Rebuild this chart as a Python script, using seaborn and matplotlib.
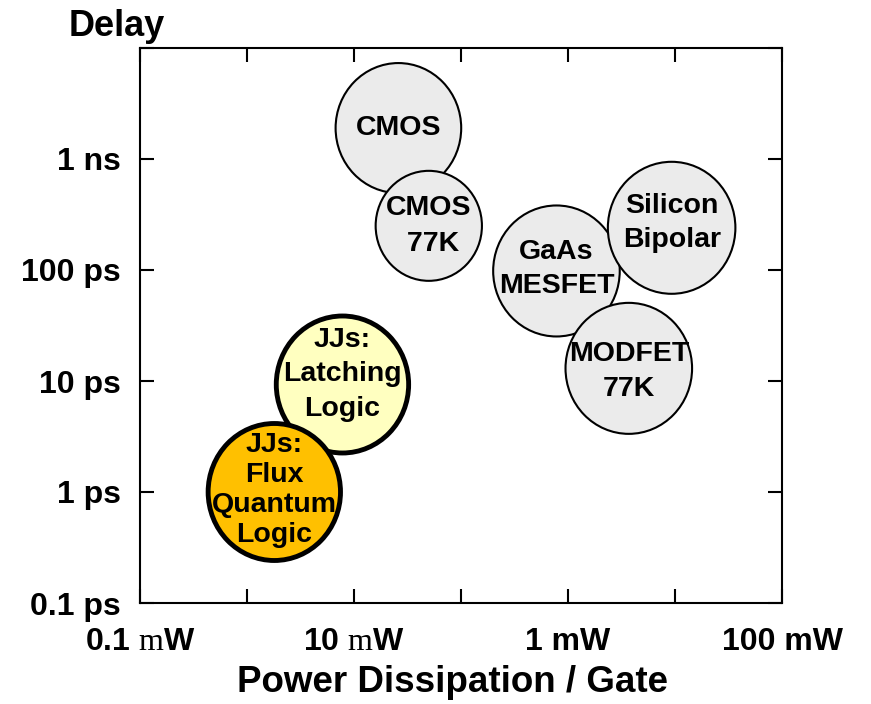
import matplotlib
matplotlib.use("Agg")
import matplotlib.pyplot as plt
import pandas as pd
import seaborn as sns
from matplotlib.markers import MarkerStyle
from matplotlib.ticker import NullLocator
from matplotlib.transforms import Affine2D

# Logic technologies: typical power per gate (W) vs gate delay (s)
technologies = [
    "CMOS",
    "CMOS\n 77K",
    "GaAs\nMESFET",
    "Silicon\nBipolar",
    "MODFET\n77K",
    "JJs:\nLatching\nLogic",
    "JJs:\nFlux\nQuantum\nLogic",
]
power_w = [2.6e-5, 5.0e-5, 7.8e-4, 9.3e-3, 3.7e-3, 7.8e-6, 1.8e-6]
delay_s = [1.9e-9, 2.5e-10, 9.8e-11, 2.4e-10, 1.3e-11, 9.3e-12, 1.0e-12]

x_ticks = [1e-7, 1e-6, 1e-5, 1e-4, 1e-3, 1e-2, 1e-1]
x_tick_labels = ["0.1 $\\mathrm{m}$W", "", "10 $\\mathrm{m}$W", "", "1 mW", "", "100 mW"]
y_ticks = [1e-13, 1e-12, 1e-11, 1e-10, 1e-9, 1e-8]
y_tick_labels = ["0.1 ps", "1 ps", "10 ps", "100 ps", "1 ns", ""]

# styling (per technology, same order as above)
fill_colors = ["#ebebeb"] * 5 + ["#ffffc0", "#ffc000"]
bubble_px = [130, 110, 131, 132, 131, 137, 137]  # bubble height in pixels
edge_pt = [1.5] * 5 + [3.5, 3.5]
line_spacing = [1.4, 1.5, 1.42, 1.42, 1.42, 1.42, 1.2]
nudge_px = [0, 0, 2, 5, -3, 10, 2]

sns.set_theme(style="white")
plt.rcParams["font.family"] = ["Liberation Sans", "DejaVu Sans"]
plt.rcParams["font.weight"] = "bold"
plt.rcParams["mathtext.fontset"] = "custom"
plt.rcParams["mathtext.rm"] = "Liberation Serif:weight=normal"
for key in ["text.color", "axes.labelcolor", "xtick.color", "ytick.color"]:
    plt.rcParams[key] = "black"

df = pd.DataFrame({"tech": technologies, "power": power_w, "delay": delay_s})

fig = plt.figure(figsize=(8.71, 7.04), dpi=100)
ax = fig.add_axes([140 / 871, 1 - 603 / 704, 642 / 871, 555 / 704])
ax.set_xscale("log")
ax.set_yscale("log")

bubble = MarkerStyle("o", transform=Affine2D().scale(1 / 1.035, 1))
sns.scatterplot(
    data=df, x="power", y="delay",
    hue="tech", palette=dict(zip(technologies, fill_colors)),
    size="tech", sizes={t: (h * 0.72) ** 2 for t, h in zip(technologies, bubble_px)},
    marker=bubble, edgecolor="black", linewidth=edge_pt,
    legend=False, ax=ax, zorder=3,
)

for tech, p, d, ls, dy in zip(technologies, power_w, delay_s, line_spacing, nudge_px):
    ax.annotate(
        tech, (p, d), xytext=(0, dy * 0.72), textcoords="offset points",
        ha="center", va="center", multialignment="center",
        fontsize=20.5, fontweight="bold", linespacing=ls, zorder=5,
    )

ax.set_xlim(1e-7, 1e-1)
ax.set_ylim(1e-13, 1e-8)
ax.set_xticks(x_ticks, x_tick_labels)
ax.set_yticks(y_ticks, y_tick_labels)
ax.xaxis.set_minor_locator(NullLocator())
ax.yaxis.set_minor_locator(NullLocator())
ax.tick_params(which="major", direction="in", length=10, width=1.5,
               bottom=True, left=True, top=True, right=True,
               labelsize=23, colors="black")
ax.tick_params(axis="x", pad=17)
ax.tick_params(axis="y", pad=14)
for sp in ax.spines.values():
    sp.set_linewidth(1.5)
    sp.set_color("black")

ax.set_xlabel("Power Dissipation / Gate", fontsize=26.5, fontweight="bold")
ax.xaxis.set_label_coords((452 - 140) / 642, (603 - 665) / 555)
ax.set_ylabel("")
fig.text(117 / 871, 1 - 36 / 704, "Delay", ha="center", va="baseline",
         fontsize=26, fontweight="bold")

fig.savefig("out.png", dpi=100, facecolor="white")
